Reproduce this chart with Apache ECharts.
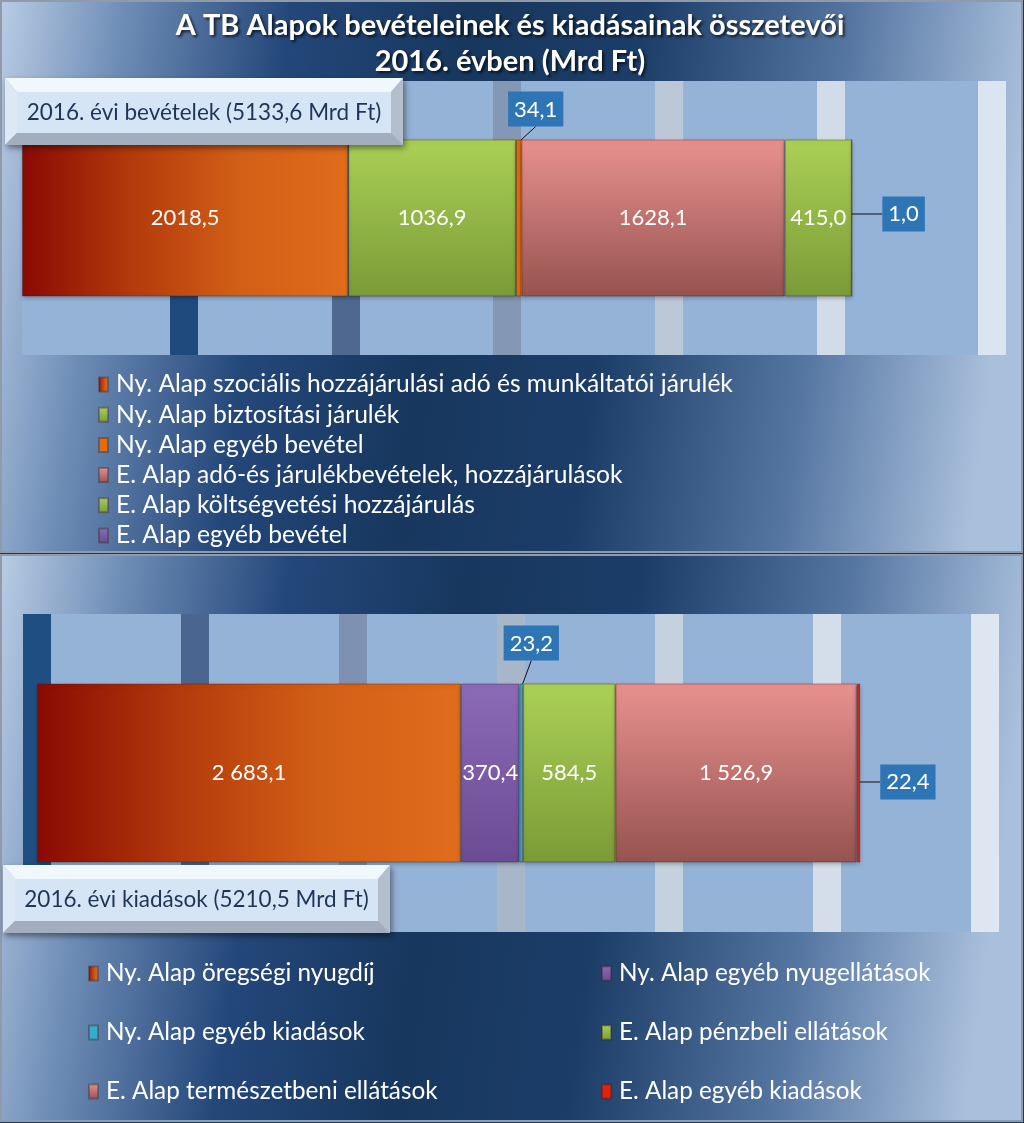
<!DOCTYPE html>
<html>
<head>
<meta charset="utf-8">
<script src="https://cdn.jsdelivr.net/npm/echarts@6/dist/echarts.min.js"></script>
<style>
html,body{margin:0;padding:0;background:#1a3a63;}
#c{width:1024px;height:1123px;}
</style>
</head>
<body>
<div id="c"></div>
<script>
// ---- data ----
const categories = ['2016'];
const revenueNames = [
  'Ny. Alap szociális hozzájárulási adó és munkáltatói járulék',
  'Ny. Alap biztosítási járulék',
  'Ny. Alap egyéb bevétel',
  'E. Alap adó-és járulékbevételek, hozzájárulások',
  'E. Alap költségvetési hozzájárulás',
  'E. Alap egyéb bevétel'
];
const revenueValues = [2018.5, 1036.9, 34.1, 1628.1, 415.0, 1.0];
const expenseNames = [
  'Ny. Alap öregségi nyugdíj',
  'Ny. Alap egyéb nyugellátások',
  'Ny. Alap egyéb kiadások',
  'E. Alap pénzbeli ellátások',
  'E. Alap természetbeni ellátások',
  'E. Alap egyéb kiadások'
];
const expenseValues = [2683.1, 370.4, 23.2, 584.5, 1526.9, 22.4];
const axisMin = 0, axisMax = 6000, axisStep = 1000;
const chartTitle = 'A TB Alapok bevételeinek és kiadásainak összetevői\n2016. évben (Mrd Ft)';

// ---- styles ----
const FONT = 'Lato, "Open Sans", sans-serif';
function vgrad(a, b) { return new echarts.graphic.LinearGradient(0, 0, 0, 1, [{offset: 0, color: a}, {offset: 1, color: b}]); }
function hgrad(stops) { return new echarts.graphic.LinearGradient(0, 0, 1, 0, stops.map((c, i) => ({offset: i / (stops.length - 1), color: c}))); }
const redOrange = hgrad(['#8a0a03', '#b33a0c', '#d25f16', '#e06c1c']);
const green = vgrad('#abd056', '#7a9b37');
const pink = vgrad('#e8918f', '#96534f');
const purple = vgrad('#8c6bb6', '#6b4b94');
const revenueColors = [redOrange, green, '#e46c0a', pink, green, purple];
const expenseColors = [redOrange, purple, '#35aecb', green, pink, '#e0220e'];

function fmtRev(v) { return v.toFixed(1).replace('.', ','); }
function fmtExp(v) {
  const s = v.toFixed(1).split('.');
  return s[0].replace(/\B(?=(\d{3})+(?!\d))/g, ' ') + ',' + s[1];
}
const sum = a => a.reduce((p, c) => p + c, 0);

// callout positions (label styling only)
const revCallouts = {2: {pos: 'top', distance: 13, dx: 17, dy: 0}, 5: {pos: 'right', distance: 30, dx: 0, dy: -4}};
const expCallouts = {2: {pos: 'top', distance: 23, dx: 10, dy: 0}, 5: {pos: 'right', distance: 20, dx: 0, dy: 9}};

function buildSeries(names, values, colors, callouts, fmt, axisIdx, barW) {
  return names.map((n, i) => {
    const c = callouts[i];
    const s = {
      name: n, type: 'bar', stack: 'tot' + axisIdx,
      xAxisIndex: axisIdx, yAxisIndex: axisIdx,
      barWidth: barW,
      data: [values[i]],
      itemStyle: {color: colors[i], borderColor: 'rgba(60,30,20,0.35)', borderWidth: 1,
                  shadowColor: 'rgba(0,0,0,0.25)', shadowBlur: 4, shadowOffsetY: 2},
      label: {show: true, position: 'inside', color: '#fff', fontFamily: FONT, fontSize: 22,
              formatter: p => fmt(p.value)}
    };
    if (c) {
      s.label = {show: true, position: c.pos, distance: c.distance, color: '#fff', fontFamily: FONT, fontSize: 22,
                 backgroundColor: '#2e75b6', padding: [7, 6, 6, 6], formatter: p => fmt(p.value)};
      s.labelLayout = {dx: c.dx, dy: c.dy};
      s.labelLine = {show: true, lineStyle: {color: '#111', width: 1}};
    }
    return s;
  });
}

function panelGrad() {
  return new echarts.graphic.LinearGradient(0, 0, 1, 0.25, [
    {offset: 0, color: '#b9cce4'},
    {offset: 0.12, color: '#6e8db6'},
    {offset: 0.28, color: '#24477a'},
    {offset: 0.45, color: '#17375e'},
    {offset: 0.62, color: '#1c3d68'},
    {offset: 0.82, color: '#5676a2'},
    {offset: 1, color: '#a9c0dc'}
  ]);
}

function bevelBox(x, y, w, h, text) {
  const b = 12;
  return {
    type: 'group', x: x, y: y, z: 60,
    children: [
      {type: 'rect', shape: {x: 0, y: 0, width: w, height: h}, style: {fill: '#a8b4c3', shadowColor: 'rgba(0,0,0,0.45)', shadowBlur: 6, shadowOffsetX: 2, shadowOffsetY: 3}, z: 60},
      {type: 'polygon', shape: {points: [[0, 0], [w, 0], [w - b, b + 2], [b, b + 2]]}, style: {fill: '#f1f8fd'}, z: 61},
      {type: 'polygon', shape: {points: [[0, 0], [b, b + 2], [b, h - b], [0, h]]}, style: {fill: '#dce8f4'}, z: 61},
      {type: 'polygon', shape: {points: [[w, 0], [w - b, b + 2], [w - b, h - b], [w, h]]}, style: {fill: '#b3bfcd'}, z: 61},
      {type: 'polygon', shape: {points: [[0, h], [b, h - b], [w - b, h - b], [w, h]]}, style: {fill: '#a2aebd'}, z: 61},
      {type: 'rect', shape: {x: b, y: b + 2, width: w - 2 * b, height: h - 2 * b - 2}, style: {fill: '#d6e5f5'}, z: 62},
      {type: 'text', x: w / 2, y: h / 2 + 1, style: {text: text, fill: '#1f3556', font: '22.5px ' + FONT, align: 'center', verticalAlign: 'middle'}, z: 63}
    ]
  };
}

const legendText = size => ({color: '#fff', fontFamily: FONT, fontSize: size, lineHeight: 25, padding: [0, 0, 0, 3]});

const chart = echarts.init(document.getElementById('c'));
const option = {
  animation: false,
  title: {
    text: chartTitle, left: 505, top: 3, textAlign: 'center',
    textStyle: {color: '#fff', fontFamily: FONT, fontWeight: 'bold', fontSize: 29, lineHeight: 36,
                textShadowColor: 'rgba(0,0,0,0.7)', textShadowBlur: 3, textShadowOffsetX: 2, textShadowOffsetY: 2}
  },
  graphic: [
    {type: 'rect', shape: {x: 1, y: 1, width: 1021, height: 551}, style: {fill: panelGrad(), stroke: '#8f9bab', lineWidth: 2}, z: -100},
    {type: 'rect', shape: {x: 1, y: 555, width: 1021, height: 566}, style: {fill: panelGrad(), stroke: '#8f9bab', lineWidth: 2}, z: -100},
    bevelBox(5, 78, 398, 67, '2016. évi bevételek (' + fmtRev(sum(revenueValues)) + ' Mrd Ft)'),
    bevelBox(3, 865, 387, 68, '2016. évi kiadások (' + fmtRev(sum(expenseValues)) + ' Mrd Ft)')
  ],
  legend: [
    {orient: 'vertical', left: 93, top: 367, itemGap: 5.2, itemWidth: 9, itemHeight: 14, icon: 'rect',
     data: revenueNames, textStyle: legendText(24.6)},
    {orient: 'vertical', left: 83, top: 956, itemGap: 34, itemWidth: 9, itemHeight: 14, icon: 'rect',
     data: [expenseNames[0], expenseNames[2], expenseNames[4]], textStyle: legendText(24.3)},
    {orient: 'vertical', left: 596, top: 956, itemGap: 34, itemWidth: 9, itemHeight: 14, icon: 'rect',
     data: [expenseNames[1], expenseNames[3], expenseNames[5]], textStyle: legendText(24.3)}
  ],
  grid: [
    {left: 22, width: 970, top: 81, height: 274, show: true, backgroundColor: '#95b3d7', borderWidth: 0},
    {left: 37, width: 948, top: 614, height: 318, show: true, backgroundColor: '#95b3d7', borderWidth: 0}
  ],
  xAxis: [
    {gridIndex: 0, type: 'value', min: axisMin, max: axisMax, interval: axisStep,
     axisLabel: {show: false}, axisLine: {show: false}, axisTick: {show: false},
     splitLine: {show: true, lineStyle: {width: 28, color: ['rgba(0,0,0,0)', '#1f4a7d', '#4e6890', '#8497b4', '#bcc8d8', '#d2dce8', '#dbe5f1']}}},
    {gridIndex: 1, type: 'value', min: axisMin, max: axisMax, interval: axisStep,
     axisLabel: {show: false}, axisLine: {show: false}, axisTick: {show: false},
     splitLine: {show: true, lineStyle: {width: 28, color: ['#1f4e82', '#4a6590', '#7e91b2', '#a8b6ca', '#c6d1df', '#d4dde9', '#dde6f1']}}}
  ],
  yAxis: [
    {gridIndex: 0, type: 'category', data: categories, show: false},
    {gridIndex: 1, type: 'category', data: categories, show: false}
  ],
  series: [].concat(
    buildSeries(revenueNames, revenueValues, revenueColors, revCallouts, fmtRev, 0, 157),
    buildSeries(expenseNames, expenseValues, expenseColors, expCallouts, fmtExp, 1, 179)
  )
};
chart.setOption(option);
</script>
</body>
</html>
